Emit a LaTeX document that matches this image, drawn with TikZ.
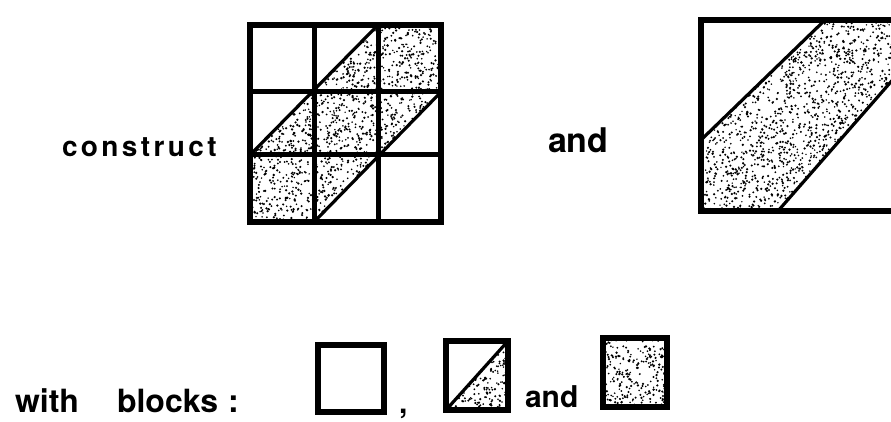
\documentclass[tikz,border=0pt]{standalone}
\usepackage{fontspec}
\setmainfont{TeX Gyre Heros}
\newcommand\ks{\kern3.4pt}
\newcommand\stip[5]{%
  \foreach \k in {1,...,#5}{\fill ({#1+rnd*#3},{#2+rnd*#4}) circle[radius={0.8+0.5*rnd}];}}
\begin{document}
\begin{tikzpicture}[x=1pt,y=-1pt,
  lbl/.style={inner sep=0pt, outer sep=0pt, anchor=base west},
  heavy/.style={line width=6.5pt, line join=miter},
  innerline/.style={line width=5pt},
  diag/.style={line width=3.2pt},
  blockline/.style={line width=5.5pt, line join=miter}]
\useasboundingbox (0,0) rectangle (891,422);
\pgfmathsetseed{7}

% ---------- 3x3 grid ----------
\begin{scope}
  \clip (250,155) -- (378,25) -- (441,25) -- (441,92) -- (314,222) -- (250,222) -- cycle;
  \stip{250}{25}{191}{197}{2000}
\end{scope}
\draw[innerline] (314,25) -- (314,222) (378,25) -- (378,222)
                 (250,92) -- (441,92) (250,155) -- (441,155);
\draw[diag] (250,155) -- (378,25) (314,222) -- (441,92);
\draw[heavy] (250,25) rectangle (441,222);

% ---------- big square ----------
\begin{scope}
  \clip (701,140) -- (825,20) -- (896,20) -- (896,76) -- (778,211) -- (701,211) -- cycle;
  \stip{701}{20}{195}{191}{2000}
\end{scope}
\draw[diag] (701,140) -- (825,20) (778,211) -- (896,76);
\draw[heavy] (701,20) rectangle (896,211);

% ---------- blocks ----------
\draw[blockline] (318,345) rectangle (384,412);

\begin{scope}
  \clip (446,410) -- (508,341) -- (508,410) -- cycle;
  \stip{446}{341}{62}{69}{240}
\end{scope}
\draw[diag] (446,410) -- (508,341);
\draw[blockline] (446,341) rectangle (508,410);

\begin{scope}
  \clip (603,338) rectangle (667,407);
  \stip{603}{338}{64}{69}{260}
\end{scope}
\draw[blockline] (603,338) rectangle (667,407);

% ---------- text ----------
\node[lbl, font=\bfseries\fontsize{28}{28}\selectfont] (construct) at (62,157)
  {c\ks o\ks n\ks s\ks t\ks r\ks u\ks c\ks t};
\node[lbl, font=\bfseries\fontsize{34}{34}\selectfont] (and1) at (548,153) {and};
\node[lbl, font=\bfseries\fontsize{32}{32}\selectfont] (with) at (15,412) {with};
\node[lbl, font=\bfseries\fontsize{32}{32}\selectfont] (blocks) at (117,412) {blocks};
\node[lbl, font=\bfseries\fontsize{32}{32}\selectfont] (colon) at (228,412) {:};
\node[lbl, font=\bfseries\fontsize{30}{30}\selectfont] (comma) at (399,413) {,};
\node[lbl, font=\bfseries\fontsize{30}{30}\selectfont] (and2) at (525,407) {and};
\end{tikzpicture}
\end{document}
